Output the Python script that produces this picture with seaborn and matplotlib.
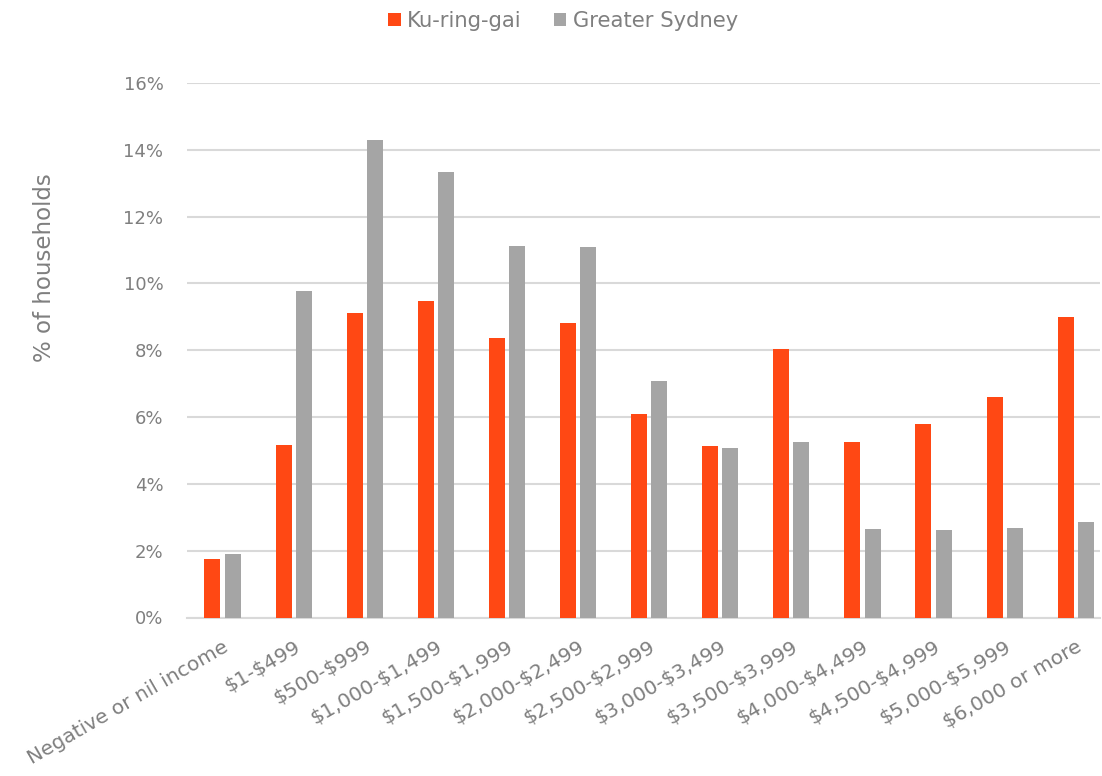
import numpy as np
import pandas as pd
import matplotlib
matplotlib.use("Agg")
import matplotlib.pyplot as plt
import seaborn as sns
from matplotlib.ticker import FuncFormatter

# ──────────────────────────────────────────────
# Data (weekly household income, % of households)
# ──────────────────────────────────────────────

income_bands = [
    "Negative or nil income", "$1-$499", "$500-$999", "$1,000-$1,499",
    "$1,500-$1,999", "$2,000-$2,499", "$2,500-$2,999", "$3,000-$3,499",
    "$3,500-$3,999", "$4,000-$4,499", "$4,500-$4,999", "$5,000-$5,999",
    "$6,000 or more",
]
ku_ring_gai = [1.75, 5.16, 9.11, 9.46, 8.36, 8.82, 6.09, 5.13, 8.05, 5.26, 5.79, 6.59, 9.00]
greater_sydney = [1.91, 9.77, 14.29, 13.33, 11.11, 11.08, 7.08, 5.07, 5.24, 2.64, 2.62, 2.67, 2.85]

series_names = ["Ku-ring-gai", "Greater Sydney"]
palette = {"Ku-ring-gai": "#FF4814", "Greater Sydney": "#A5A5A5"}

TEXT_GREY = "#7F7F7F"
GRID_GREY = "#D9D9D9"

df = pd.DataFrame({
    "band": income_bands * 2,
    "area": [series_names[0]] * len(income_bands) + [series_names[1]] * len(income_bands),
    "pct": ku_ring_gai + greater_sydney,
})

# ──────────────────────────────────────────────
# Plot
# ──────────────────────────────────────────────

sns.set_theme(style="white")
plt.rcParams["font.family"] = ["DejaVu Sans"]
plt.rcParams["text.parse_math"] = False  # labels are full of "$"

fig = plt.figure(figsize=(11.02, 7.76), dpi=100)
ax = fig.add_axes([187 / 1102, 1 - 617.5 / 776, (1100 - 187) / 1102, (617.5 - 83) / 776])

sns.barplot(
    data=df, x="band", y="pct", hue="area", hue_order=series_names,
    order=income_bands, palette=palette, saturation=1, width=0.57, gap=0.21,
    linewidth=0, ax=ax, legend=True, zorder=3,
)

ax.set_ylim(0, 16)
ax.set_xlim(-0.5, -0.5 + 913 / 71.1)
ax.set_yticks(np.arange(0, 17, 2))
ax.yaxis.set_major_formatter(FuncFormatter(lambda v, _: f"{v:.0f}%"))
ax.grid(axis="y", color=GRID_GREY, linewidth=1.5, zorder=0)
ax.set_axisbelow(True)

for side in ["top", "right", "left"]:
    ax.spines[side].set_visible(False)
ax.spines["bottom"].set_color(GRID_GREY)
ax.spines["bottom"].set_linewidth(1.5)

ax.tick_params(axis="y", length=0, pad=17, labelsize=13, labelcolor=TEXT_GREY)
ax.tick_params(axis="x", length=0, pad=14, labelsize=14.5, labelcolor=TEXT_GREY)
for lbl in ax.get_xticklabels():
    lbl.set_rotation(30)
    lbl.set_ha("right")
    lbl.set_va("top")
    lbl.set_rotation_mode("anchor")

ax.set_xlabel("")
ax.set_ylabel("% of households", fontsize=16.5, color=TEXT_GREY)
ax.yaxis.set_label_coords(-0.143, (617.5 - 268) / 534.5)

ax.legend_.remove()
handles, labels = ax.get_legend_handles_labels()
fig.legend(
    handles, labels, loc="center", bbox_to_anchor=(563 / 1102, 1 - 21 / 776),
    ncol=2, frameon=False, fontsize=15.2, labelcolor=TEXT_GREY,
    handlelength=0.6, handleheight=0.6, handletextpad=0.3, columnspacing=1.5,
)

fig.savefig("out.png", dpi=100)
